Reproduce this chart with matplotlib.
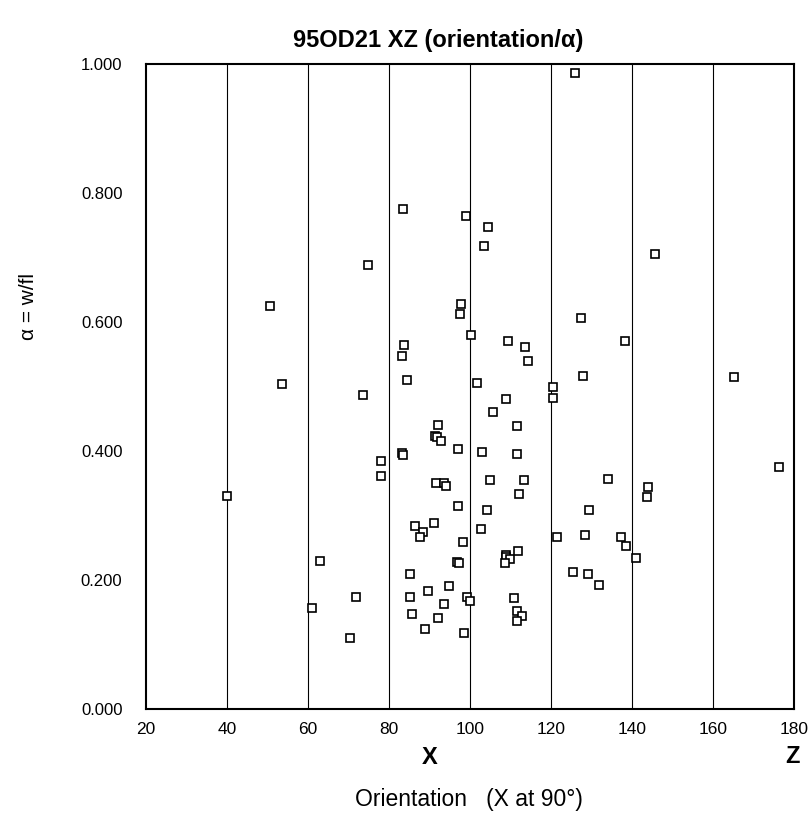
import matplotlib
matplotlib.use("Agg")
import matplotlib.pyplot as plt

plt.rcParams['font.family'] = ['Liberation Sans', 'DejaVu Sans']

# orientation (deg) and alpha = w/fl
orientation = [
    83.5, 99.0, 104.5, 103.5, 125.9, 145.7, 74.9,
    50.5, 97.9, 97.6, 100.2, 83.6, 83.3, 53.6, 84.4, 73.5,
    109.5, 113.7, 114.4, 127.5, 138.3, 128.0, 165.1, 120.5, 120.5, 101.7, 108.9, 105.6, 111.6,
    92.2, 91.3, 91.8, 92.8, 97.0, 83.1, 83.4, 78.0, 78.0, 103.0, 111.7, 176.3,
    104.9, 113.4, 134.1, 91.5, 93.6, 94.2, 40.0, 112.2, 144.0, 143.6,
    97.1, 104.2, 129.3, 91.0, 86.3, 88.5, 87.7, 102.7, 98.3, 121.4, 128.5, 137.3, 138.5, 141.0,
    63.0, 96.8, 97.2, 108.9, 108.8, 109.9, 108.7, 111.9,
    85.3, 94.9, 89.7, 85.3, 93.7, 99.2, 100.0, 71.9, 61.1, 125.5, 129.1, 131.9, 110.9,
    85.8, 92.2, 88.9, 98.5, 70.3, 111.5, 112.9, 111.5,
]
alpha = [
    0.775, 0.765, 0.747, 0.718, 0.986, 0.705, 0.689,
    0.625, 0.628, 0.613, 0.580, 0.564, 0.548, 0.504, 0.510, 0.487,
    0.571, 0.561, 0.539, 0.607, 0.570, 0.517, 0.514, 0.499, 0.482, 0.506, 0.481, 0.461, 0.439,
    0.440, 0.423, 0.421, 0.416, 0.403, 0.397, 0.394, 0.385, 0.361, 0.399, 0.395, 0.375,
    0.355, 0.355, 0.357, 0.351, 0.351, 0.346, 0.331, 0.334, 0.344, 0.329,
    0.314, 0.309, 0.308, 0.289, 0.283, 0.275, 0.266, 0.279, 0.259, 0.267, 0.270, 0.266, 0.253, 0.234,
    0.229, 0.228, 0.226, 0.239, 0.236, 0.232, 0.227, 0.245,
    0.209, 0.191, 0.183, 0.173, 0.163, 0.173, 0.167, 0.173, 0.157, 0.213, 0.210, 0.192, 0.172,
    0.147, 0.141, 0.124, 0.118, 0.110, 0.152, 0.144, 0.137,
]

x_ticks = [20, 40, 60, 80, 100, 120, 140, 160, 180]
y_ticks = [0.0, 0.2, 0.4, 0.6, 0.8, 1.0]

fig = plt.figure(figsize=(8.12, 8.23), dpi=100)
ax = fig.add_axes([0.1798, 0.1385, 0.798, 0.7837])

# vertical grid every 20 degrees
for gx in x_ticks[1:-1]:
    ax.axvline(gx, color='black', linewidth=0.8, zorder=1)

ax.plot(orientation, alpha, linestyle='none', marker='s', markersize=5.5,
        markerfacecolor='white', markeredgecolor='black', markeredgewidth=1.2, zorder=3)

ax.set_xlim(20, 180)
ax.set_ylim(0, 1)
ax.set_xticks(x_ticks)
ax.set_yticks(y_ticks)
ax.set_yticklabels(['%.3f' % v for v in y_ticks])
ax.tick_params(axis='both', length=0)
ax.tick_params(axis='x', pad=9, labelsize=12.5)
ax.tick_params(axis='y', pad=17, labelsize=12)
for s in ax.spines.values():
    s.set_linewidth(1.5)

fig.text(0.54, 0.951, '95OD21 XZ (orientation/\u03b1)', ha='center', va='center',
         fontsize=17, fontweight='bold')
ax.text(90, -0.075, 'X', ha='center', va='center', fontsize=17, fontweight='bold')
ax.text(179.5, -0.073, 'Z', ha='center', va='center', fontsize=17, fontweight='bold')
fig.text(0.578, 0.028, 'Orientation   (X at 90\u00b0)', ha='center', va='center', fontsize=16.5)
fig.text(0.035, 0.627, '\u03b1 = w/fl', ha='center', va='center', rotation=90, fontsize=15)

plt.savefig('out.png', dpi=100)
